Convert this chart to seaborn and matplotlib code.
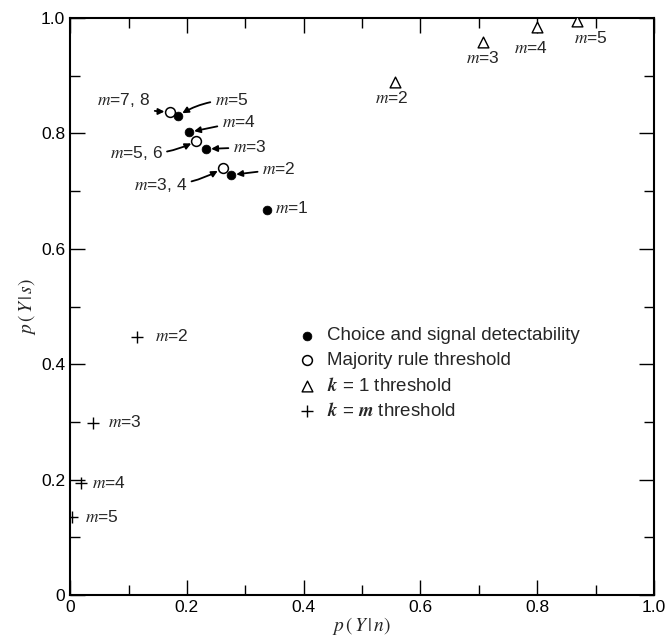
import matplotlib
matplotlib.use("Agg")
import matplotlib.pyplot as plt
from matplotlib.ticker import MultipleLocator
import seaborn as sns
import pandas as pd

# values
choice_x = [0.337, 0.275, 0.232, 0.203, 0.184]
choice_y = [0.667, 0.728, 0.773, 0.802, 0.830]
choice_lab = ["1", "2", "3", "4", "5"]

major_x = [0.261, 0.216, 0.171]
major_y = [0.740, 0.787, 0.838]
major_lab = ["3, 4", "5, 6", "7, 8"]

k1_x = [0.557, 0.707, 0.800, 0.868]
k1_y = [0.890, 0.958, 0.984, 0.995]
k1_lab = ["2", "3", "4", "5"]

km_x = [0.114, 0.039, 0.018, 0.003]
km_y = [0.448, 0.299, 0.195, 0.135]
km_lab = ["2", "3", "4", "5"]

# label placements (layout only)
choice_txt = [(0.351, 0.671), (0.329, 0.738), (0.279, 0.776), (0.260, 0.820), (0.248, 0.858)]
major_txt = [(0.200, 0.711), (0.158, 0.766), (0.137, 0.858)]
k1_txt = [(0.551, 0.862), (0.707, 0.931), (0.789, 0.948), (0.892, 0.965)]
km_txt = [(0.146, 0.449), (0.065, 0.300), (0.038, 0.194), (0.026, 0.135)]

sns.set_style("ticks")
plt.rcParams['font.family'] = ['Liberation Sans', 'DejaVu Sans']
plt.rcParams['mathtext.fontset'] = 'stix'

fig = plt.figure(figsize=(6.68, 6.44), dpi=100)
ax = fig.add_axes([0.105, 0.076, 0.874, 0.896])

df_c = pd.DataFrame({"x": choice_x, "y": choice_y})
df_m = pd.DataFrame({"x": major_x, "y": major_y})
df_k1 = pd.DataFrame({"x": k1_x, "y": k1_y})
df_km = pd.DataFrame({"x": km_x, "y": km_y})

sns.scatterplot(data=df_c, x="x", y="y", ax=ax, marker="o", s=40, color="black",
                edgecolor="black", label="Choice and signal detectability", zorder=3)
sns.scatterplot(data=df_m, x="x", y="y", ax=ax, marker="o", s=50, facecolor="white",
                edgecolor="black", linewidth=1.1, label="Majority rule threshold", zorder=3)
sns.scatterplot(data=df_k1, x="x", y="y", ax=ax, marker="^", s=60, facecolor="white",
                edgecolor="black", linewidth=1.0, label=r"$\mathbfit{k}$ = 1 threshold", zorder=3)
sns.scatterplot(data=df_km, x="x", y="y", ax=ax, marker="+", s=70, color="black",
                linewidth=1.0, label=r"$\mathbfit{k}$ = $\mathbfit{m}$ threshold", zorder=3)

lab_fs = 12.5
arrow = dict(arrowstyle="-|>", color="black", lw=1.3, mutation_scale=9,
             shrinkA=1, shrinkB=4)

# choice labels: m=1 has no arrow
for i, (x, y) in enumerate(zip(choice_x, choice_y)):
    tx, ty = choice_txt[i]
    txt = r"$m$=" + choice_lab[i]
    if i == 0:
        ax.text(tx, ty, txt, fontsize=lab_fs, ha="left", va="center")
    else:
        rad = 0.15 if i == 4 else 0.0
        ax.annotate(txt, xy=(x, y), xytext=(tx, ty), fontsize=lab_fs, ha="left",
                    va="center", arrowprops=dict(arrow, connectionstyle=f"arc3,rad={rad}"))

for i, (x, y) in enumerate(zip(major_x, major_y)):
    tx, ty = major_txt[i]
    ax.annotate(r"$m$=" + major_lab[i], xy=(x, y), xytext=(tx, ty), fontsize=lab_fs,
                ha="right", va="center",
                arrowprops=dict(arrow, connectionstyle="arc3,rad=0.15"))

for i in range(len(k1_x)):
    tx, ty = k1_txt[i]
    ax.text(tx, ty, r"$m$=" + k1_lab[i], fontsize=lab_fs, ha="center", va="center")

for i in range(len(km_x)):
    tx, ty = km_txt[i]
    ax.text(tx, ty, r"$m$=" + km_lab[i], fontsize=lab_fs, ha="left", va="center")

ax.set_xlim(0, 1.0)
ax.set_ylim(0, 1.0)
ax.xaxis.set_major_locator(MultipleLocator(0.2))
ax.yaxis.set_major_locator(MultipleLocator(0.2))
ax.xaxis.set_minor_locator(MultipleLocator(0.1))
ax.yaxis.set_minor_locator(MultipleLocator(0.1))
ax.xaxis.set_major_formatter(lambda v, p: "0" if v == 0 else f"{v:.1f}")
ax.yaxis.set_major_formatter(lambda v, p: "0" if v == 0 else f"{v:.1f}")
ax.tick_params(which="both", direction="in", top=True, right=True, labelsize=12.5,
               width=1.0, color="black", labelcolor="black")
ax.tick_params(which="major", length=11)
ax.tick_params(which="minor", length=7)
for sp in ax.spines.values():
    sp.set_visible(True)
    sp.set_linewidth(1.5)
    sp.set_color("black")

ax.set_xlabel(r"$p\,(\,Y\,|\,n)$", fontsize=14, labelpad=0)
ax.set_ylabel(r"$p\,(\,Y\,|\,s)$", fontsize=14, labelpad=2)

leg = ax.legend(loc="upper left", bbox_to_anchor=(0.376, 0.477), frameon=False,
                fontsize=13.5, handletextpad=0.6, labelspacing=0.4,
                handlelength=1.0, borderaxespad=0)

fig.savefig("out.png", dpi=100)
